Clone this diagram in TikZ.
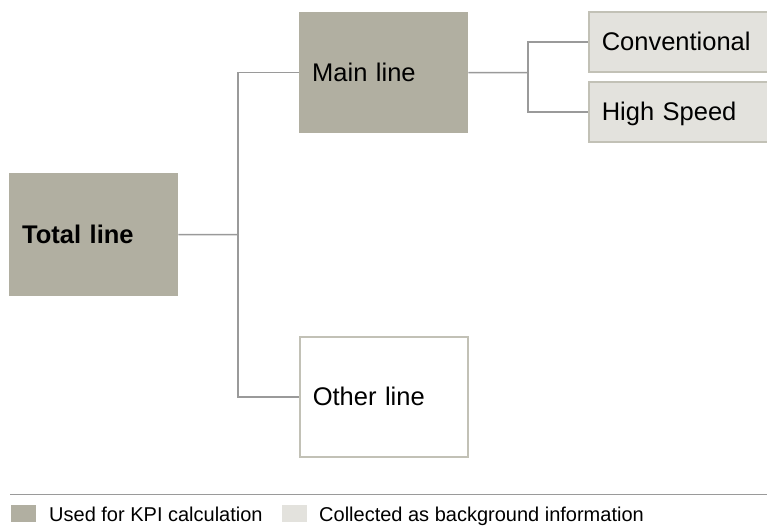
\documentclass[tikz,border=0pt]{standalone}
\usepackage{fontspec}
\setmainfont{Liberation Sans}
\definecolor{kpi}{HTML}{B1AFA1}
\definecolor{bg}{HTML}{E3E2DD}
\definecolor{bgline}{HTML}{C2C1B6}
\definecolor{conn}{HTML}{9A9A9A}
\begin{document}
\begin{tikzpicture}[x=1pt,y=-1pt,
  box/.style={rectangle, inner xsep=13pt, inner ysep=0pt, align=left, font=\fontsize{25.5}{30}\selectfont, anchor=north west},
  kpibox/.style={box, fill=kpi},
  bgbox/.style={box, fill=bg, draw=bgline, line width=1.5pt},
  otherbox/.style={box, fill=white, draw=bgline, line width=1.5pt},
  conn/.style={draw=conn, line width=1.5pt},
  legsq/.style={rectangle, minimum width=25pt, minimum height=17pt, inner sep=0pt, anchor=north west},
  legtext/.style={anchor=base west, inner sep=0pt, font=\fontsize{20}{24}\selectfont}
]
\useasboundingbox (0,0) rectangle (767,525);
\node[kpibox, text width=143pt, minimum height=123pt] (total) at (9,173) {\textbf{Total line}};
\node[kpibox, text width=143pt, minimum height=121pt] (main) at (299,12) {Main line};
\node[otherbox, text width=142pt, minimum height=120pt] (other) at (299,336) {Other line};
\node[bgbox, text width=160pt, minimum height=60pt] (conv) at (588,11) {Conventional};
\node[bgbox, text width=160pt, minimum height=60pt] (hs) at (588,81) {\raisebox{0pt}[\height][0pt]{High Speed}};
\coordinate (j1) at (238,234.5);
\coordinate (j2) at (528,72.5);
\draw[conn] (total.east) -- (j1);
\draw[conn] (j1) |- (main.west);
\draw[conn] (j1) |- (other.west);
\draw[conn] (main.east) -- (j2);
\draw[conn] (j2) |- (conv.west);
\draw[conn] (j2) |- (hs.west);
% legend
\coordinate (l1) at (10,494.5);
\coordinate (l2) at (767,494.5);
\draw[draw=conn, line width=1.5pt] (l1) -- (l2);
\node[legsq, fill=kpi] (sq1) at (11,505) {};
\node[legtext] (t1) at (49,521) {Used for KPI calculation};
\node[legsq, fill=bg] (sq2) at (282,505) {};
\node[legtext] (t2) at (319,521) {Collected as background information};
\end{tikzpicture}
\end{document}
